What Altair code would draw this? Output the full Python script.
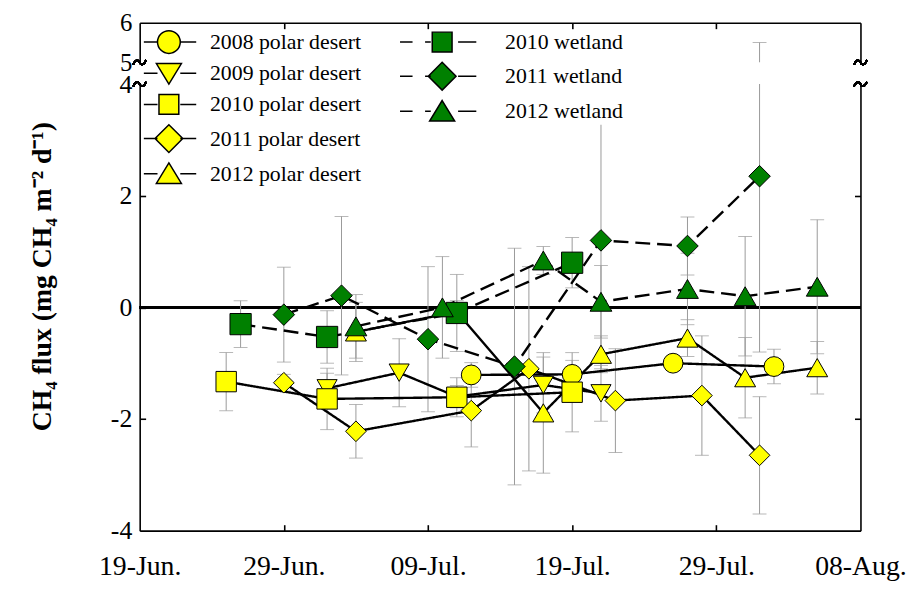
import altair as alt
import pandas as pd

# ---------------- data ----------------
series_names = ["2008 polar desert", "2009 polar desert", "2010 polar desert",
                "2011 polar desert", "2012 polar desert",
                "2010 wetland", "2011 wetland", "2012 wetland"]
series_kind = ["polar desert"] * 5 + ["wetland"] * 3

pd08_dates = ["2010-07-12", "2010-07-19", "2010-07-26", "2010-08-02"]
pd08_flux = [-1.21, -1.20, -1.00, -1.06]
pd08_err = [0.22, 0.25, 0.10, 0.31]

pd09_dates = ["2010-07-02", "2010-07-07", "2010-07-11", "2010-07-17", "2010-07-21"]
pd09_flux = [-1.45, -1.17, -1.60, -1.39, -1.54]
pd09_err = [0.27, 0.61, 0.20, 0.50, 0.50]

pd10_dates = ["2010-06-25", "2010-07-02", "2010-07-11", "2010-07-19"]
pd10_flux = [-1.33, -1.64, -1.61, -1.52]
pd10_err = [0.52, 0.55, 0.35, 0.71]

pd11_dates = ["2010-06-29", "2010-07-04", "2010-07-12", "2010-07-16",
              "2010-07-22", "2010-07-28", "2010-08-01"]
pd11_flux = [-1.35, -2.22, -1.85, -1.10, -1.67, -1.58, -2.65]
pd11_err = [0.15, 0.48, 0.65, 1.83, 0.93, 1.07, 1.05]

pd12_dates = ["2010-07-04", "2010-07-11", "2010-07-17", "2010-07-21",
              "2010-07-27", "2010-07-31", "2010-08-05"]
pd12_flux = [-0.44, -0.08, -1.89, -0.84, -0.55, -1.26, -1.08]
pd12_err = [0.53, 0.20, 1.08, 0.33, 0.33, 0.72, 0.47]

wl10_dates = ["2010-06-26", "2010-07-02", "2010-07-11", "2010-07-19"]
wl10_flux = [-0.30, -0.53, -0.10, 0.80]
wl10_err = [0.42, 0.47, 0.69, 0.45]

wl11_dates = ["2010-06-29", "2010-07-03", "2010-07-09", "2010-07-15",
              "2010-07-21", "2010-07-27", "2010-08-01"]
wl11_flux = [-0.13, 0.21, -0.57, -1.06, 1.20, 1.10, 2.35]
wl11_err = [0.85, 1.42, 1.30, 2.12, 2.30, 0.52, 3.15]

wl12_dates = ["2010-07-04", "2010-07-10", "2010-07-17", "2010-07-21",
              "2010-07-27", "2010-07-31", "2010-08-05"]
wl12_flux = [-0.34, 0.00, 0.84, 0.10, 0.33, 0.20, 0.37]
wl12_err = [0.57, 0.91, 0.25, 0.65, 0.64, 1.07, 1.20]

x_domain = ["2010-06-19", "2010-08-08"]
x_label_dates = ["2010-06-19", "2010-06-29", "2010-07-09",
                 "2010-07-19", "2010-07-29", "2010-08-08"]
x_inner_ticks = ["2010-06-29", "2010-07-09", "2010-07-19", "2010-07-29"]
y_low_domain = [-4, 4]
y_low_labels = [-4, -2, 0, 2, 4]
y_low_ticks = [-2, 0, 2]
y_high_domain = [5, 6]
y_high_labels = [5, 6]

# ---------------- styling ----------------
YELLOW = "#FFFF00"
GREEN = "#008000"
GRAY = "#9a9a9a"
FONT = "Liberation Serif"
W, H_TOP, H_BOT = 728, 40, 451
GAP = 22

plot_shapes = ["circle", "triangle-down", "square", "diamond", "triangle-up",
               "square", "diamond", "triangle-up"]
plot_sizes = [400, 484, 361, 600, 484, 361, 600, 484]
fills = [YELLOW] * 5 + [GREEN] * 3

# legend symbols: marker with line segments through it
pd_line = "M-2.2,0H-1M1,0H2.4"
wl_line = "M-3.7,0H-2.6M-1.5,0H-1M1.4,0H3.0"
m_circle = "M-1,0A1,1 0 1,1 1,0A1,1 0 1,1 -1,0Z"
m_tdown = "M-1.1,-0.85L1.1,-0.85L0,0.95Z"
m_square = "M-0.87,-0.87H0.87V0.87H-0.87Z"
m_diamond = "M-1.22,0L0,-1.22L1.22,0L0,1.22Z"
m_tup = "M0,-0.95L1.1,0.85L-1.1,0.85Z"
pd_paths = [pd_line + m_circle, pd_line + m_tdown, pd_line + m_square,
            pd_line + m_diamond, pd_line + m_tup]
wl_paths = [wl_line + m_square, wl_line + m_diamond, wl_line + m_tup]
squiggle = "M-1,0.35C-0.6,-0.55 -0.2,-0.45 0,0C0.2,0.45 0.6,0.55 1,-0.35"


def dt(s):
    y, m, d = (int(v) for v in s.split("-"))
    return alt.DateTime(year=y, month=m, date=d, utc=True)


all_dates = [pd08_dates, pd09_dates, pd10_dates, pd11_dates, pd12_dates,
             wl10_dates, wl11_dates, wl12_dates]
all_flux = [pd08_flux, pd09_flux, pd10_flux, pd11_flux, pd12_flux,
            wl10_flux, wl11_flux, wl12_flux]
all_err = [pd08_err, pd09_err, pd10_err, pd11_err, pd12_err,
           wl10_err, wl11_err, wl12_err]

rows = []
for name, kind, ds, fs, es in zip(series_names, series_kind, all_dates, all_flux, all_err):
    for d, f, e in zip(ds, fs, es):
        rows.append({"series": name, "kind": kind, "date": d, "flux": f,
                     "lo": round(f - e, 3), "hi": round(f + e, 3)})
df = pd.DataFrame(rows)

xscale = alt.Scale(type="utc", domain=[dt(v) for v in x_domain])
y_low = alt.Scale(domain=y_low_domain, nice=False, zero=False)
y_high = alt.Scale(domain=y_high_domain, nice=False, zero=False)

AX = dict(grid=False, domainColor="black", domainWidth=1.6, tickColor="black",
          tickWidth=1.6, labelColor="black", labelFont=FONT, title=None)
LABEL_EXPR = "toString(datum.value)"

# ---- axes of the lower panel ----
ax_y_labels = alt.Axis(orient="left", values=y_low_labels, ticks=False, domain=False,
                       labelFontSize=26, labelPadding=8, grid=False, labelColor="black",
                       labelFont=FONT, labelExpr=LABEL_EXPR,
                       title="CH\u2084 flux (mg CH\u2084 m\u207b\u00b2 d\u207b\u00b9)",
                       titleFont=FONT, titleFontSize=28, titleFontWeight="bold",
                       titleColor="black", titleX=-84, titleY=194, titleAngle=270,
                       titleBaseline="bottom", titleAlign="center")
ax_y_left = alt.Axis(orient="right", offset=-W, values=y_low_ticks, tickSize=6,
                     labels=False, domain=True, **AX)
ax_y_right = alt.Axis(orient="left", offset=-W, values=[-2, 2], tickSize=6,
                      labels=False, domain=True, **AX)
ax_x_labels = alt.Axis(orient="bottom", values=[dt(v) for v in x_label_dates],
                       labelExpr="utcFormat(datum.value, '%d-%b.')",
                       ticks=False, domain=False,
                       labelFontSize=28, labelPadding=22, labelFlush=False,
                       labelOverlap=False, labelBound=False, grid=False,
                       labelColor="black", labelFont=FONT, title=None)
ax_x_bottom = alt.Axis(orient="top", offset=-H_BOT, values=[dt(v) for v in x_inner_ticks],
                       tickSize=6, labels=False, domain=True, **AX)

# ---- axes of the upper panel ----
ax_y2_labels = alt.Axis(orient="left", values=y_high_labels, ticks=False, domain=False,
                        labelFontSize=25, labelPadding=8, grid=False, labelColor="black",
                        labelFont=FONT, labelExpr=LABEL_EXPR, title=None)
ax_y2_left = alt.Axis(orient="right", offset=-W, ticks=False, labels=False,
                      domain=True, **AX)
ax_y2_right = alt.Axis(orient="left", offset=-W, ticks=False, labels=False,
                       domain=True, **AX)
ax_x_top = alt.Axis(orient="bottom", offset=-H_TOP, values=[dt(v) for v in x_inner_ticks],
                    tickSize=6, labels=False, domain=True, **AX)

base = alt.Chart(df)

# ---------------- lower panel ----------------
zero_line = alt.Chart(df).mark_rule(color="black", strokeWidth=1.8).encode(
    y=alt.Y(datum=0, type="quantitative", scale=y_low, axis=ax_y_labels)
)
err_rule = base.mark_rule(color=GRAY, strokeWidth=1, clip=True).encode(
    x=alt.X("date:T", scale=xscale, axis=ax_x_labels),
    y=alt.Y("lo:Q", scale=y_low, axis=ax_y_left),
    y2="hi:Q",
)
cap_hi = base.mark_tick(color=GRAY, size=14, thickness=1, orient="horizontal", clip=True).encode(
    x=alt.X("date:T", scale=xscale, axis=ax_x_bottom),
    y=alt.Y("hi:Q", scale=y_low, axis=ax_y_right),
)
cap_lo = base.mark_tick(color=GRAY, size=14, thickness=1, orient="horizontal", clip=True).encode(
    x=alt.X("date:T", scale=xscale, axis=None),
    y=alt.Y("lo:Q", scale=y_low, axis=None),
)
lines = base.mark_line(color="black", strokeWidth=2.4).encode(
    x=alt.X("date:T", scale=xscale, axis=None),
    y=alt.Y("flux:Q", scale=y_low, axis=None),
    detail="series:N",
    strokeDash=alt.StrokeDash("kind:N", scale=alt.Scale(domain=["polar desert", "wetland"],
                                                        range=[[1, 0], [15, 7]]), legend=None),
)
points = base.mark_point(filled=True, opacity=1, stroke="black", strokeWidth=1).encode(
    x=alt.X("date:T", scale=xscale, axis=None),
    y=alt.Y("flux:Q", scale=y_low, axis=None),
    shape=alt.Shape("series:N", scale=alt.Scale(domain=series_names, range=plot_shapes), legend=None),
    fill=alt.Fill("series:N", scale=alt.Scale(domain=series_names, range=fills), legend=None),
    size=alt.Size("series:N", scale=alt.Scale(domain=series_names, range=plot_sizes), legend=None),
)
sq_low_l = alt.Chart(df).mark_point(shape=squiggle, filled=False, stroke="black",
                                    strokeWidth=1.5, size=170, opacity=1).encode(
    x=alt.X(datum=dt(x_domain[0]), type="temporal", scale=xscale, axis=None),
    y=alt.Y(datum=y_low_domain[1], type="quantitative", scale=y_low, axis=None),
)
sq_low_r = sq_low_l.encode(
    x=alt.X(datum=dt(x_domain[1]), type="temporal", scale=xscale, axis=None)
)

pd_names = series_names[:5]
wl_names = series_names[5:]
LEG = dict(title=None, labelFont=FONT, labelFontSize=22, labelColor="black",
           symbolSize=529, symbolStrokeColor="black", symbolStrokeWidth=1.5,
           symbolOpacity=1, rowPadding=3.5, padding=0, orient="none", direction="vertical")
leg_pd_def = alt.Legend(legendX=17, legendY=-55, labelOffset=29, **LEG)
leg_wl_def = alt.Legend(legendX=293, legendY=-55, labelOffset=51, fillColor="white", **LEG)

leg_pd = alt.Chart(pd.DataFrame({"pd_series": pd_names})).mark_point(
    filled=True, opacity=0).encode(
    shape=alt.Shape("pd_series:N", scale=alt.Scale(domain=pd_names, range=pd_paths), legend=leg_pd_def),
    fill=alt.Fill("pd_series:N", scale=alt.Scale(domain=pd_names, range=[YELLOW] * 5), legend=leg_pd_def),
    stroke=alt.Stroke("pd_series:N", scale=alt.Scale(domain=pd_names, range=["black"] * 5), legend=leg_pd_def),
)
leg_wl = alt.Chart(pd.DataFrame({"wl_series": wl_names})).mark_point(
    filled=True, opacity=0).encode(
    shape=alt.Shape("wl_series:N", scale=alt.Scale(domain=wl_names, range=wl_paths), legend=leg_wl_def),
    fill=alt.Fill("wl_series:N", scale=alt.Scale(domain=wl_names, range=[GREEN] * 3), legend=leg_wl_def),
    stroke=alt.Stroke("wl_series:N", scale=alt.Scale(domain=wl_names, range=["black"] * 3), legend=leg_wl_def),
)

lower = alt.layer(
    zero_line, err_rule, cap_hi, cap_lo, lines, points, sq_low_l, sq_low_r, leg_pd, leg_wl
).resolve_axis(x="independent", y="independent").resolve_scale(
    shape="independent", fill="independent", stroke="independent"
).properties(width=W, height=H_BOT)

# ---------------- upper panel ----------------
err_rule_top = base.mark_rule(color=GRAY, strokeWidth=1, clip=True).encode(
    x=alt.X("date:T", scale=xscale, axis=ax_x_top),
    y=alt.Y("lo:Q", scale=y_high, axis=ax_y2_labels),
    y2="hi:Q",
)
cap_top = base.mark_tick(color=GRAY, size=14, thickness=1, orient="horizontal", clip=True).encode(
    x=alt.X("date:T", scale=xscale, axis=None),
    y=alt.Y("hi:Q", scale=y_high, axis=ax_y2_left),
)
sq_up_l = alt.Chart(df).mark_point(shape=squiggle, filled=False, stroke="black",
                                   strokeWidth=1.5, size=170, opacity=1).encode(
    x=alt.X(datum=dt(x_domain[0]), type="temporal", scale=xscale, axis=None),
    y=alt.Y(datum=y_high_domain[0], type="quantitative", scale=y_high, axis=ax_y2_right),
)
sq_up_r = sq_up_l.encode(
    x=alt.X(datum=dt(x_domain[1]), type="temporal", scale=xscale, axis=None),
    y=alt.Y(datum=y_high_domain[0], type="quantitative", scale=y_high, axis=None),
)
upper = alt.layer(err_rule_top, cap_top, sq_up_l, sq_up_r).resolve_axis(
    x="independent", y="independent"
).properties(width=W, height=H_TOP)

chart = alt.vconcat(upper, lower, spacing=GAP, bounds="flush").properties(
    padding={"left": 21, "top": 0, "right": 0, "bottom": 0}
).configure(
    background="white",
    view=alt.ViewConfig(stroke="transparent", strokeWidth=0),
)

chart.save("out.html", embed_options={"renderer": "svg", "actions": False})
